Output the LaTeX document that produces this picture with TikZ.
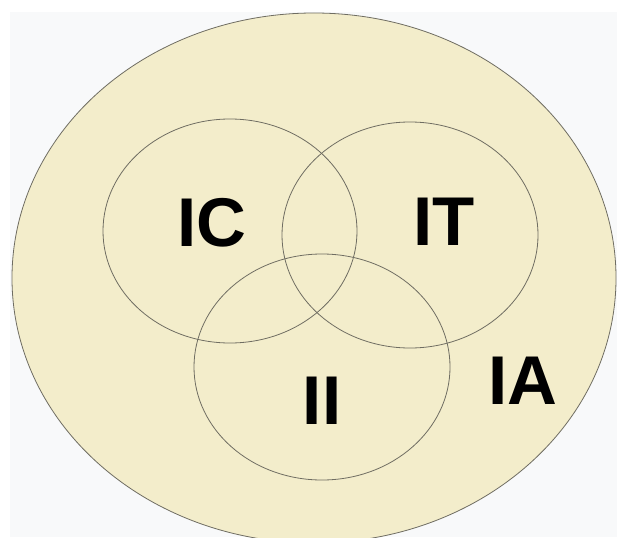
\documentclass[tikz,border=0pt]{standalone}
\usepackage{fontspec}
\setmainfont{Liberation Sans}
\usetikzlibrary{positioning}
\definecolor{venncream}{HTML}{F3EDCB}
\definecolor{vennline}{HTML}{6F6D62}
\definecolor{pagegray}{HTML}{F8F9FA}

\begin{document}
\begin{tikzpicture}[x=1pt, y=-1pt,
  set/.style={draw=vennline, line width=0.8pt},
  lbl/.style={font=\fontsize{69}{69}\selectfont\bfseries, inner sep=0pt}
]
\useasboundingbox[fill=white] (0,0) rectangle (617,537);
\fill[pagegray] (10,12) rectangle (617,537);
\clip (0,0) rectangle (617,537);
% universe and the three sets
\draw[set, fill=venncream] (314,278) ellipse [x radius=302, y radius=265];
\draw[set] (230,231) ellipse [x radius=127, y radius=112];
\draw[set] (410,235) ellipse [x radius=128, y radius=113];
\draw[set] (322,367) ellipse [x radius=128, y radius=113];
\node[lbl] (ic) at (212,223) {IC};
\node[lbl] (it) at (444,222) {IT};
\node[lbl] (ii) at (322,401) {II};
\node[lbl] (ia) at (523,381) {IA};
\end{tikzpicture}
\end{document}
